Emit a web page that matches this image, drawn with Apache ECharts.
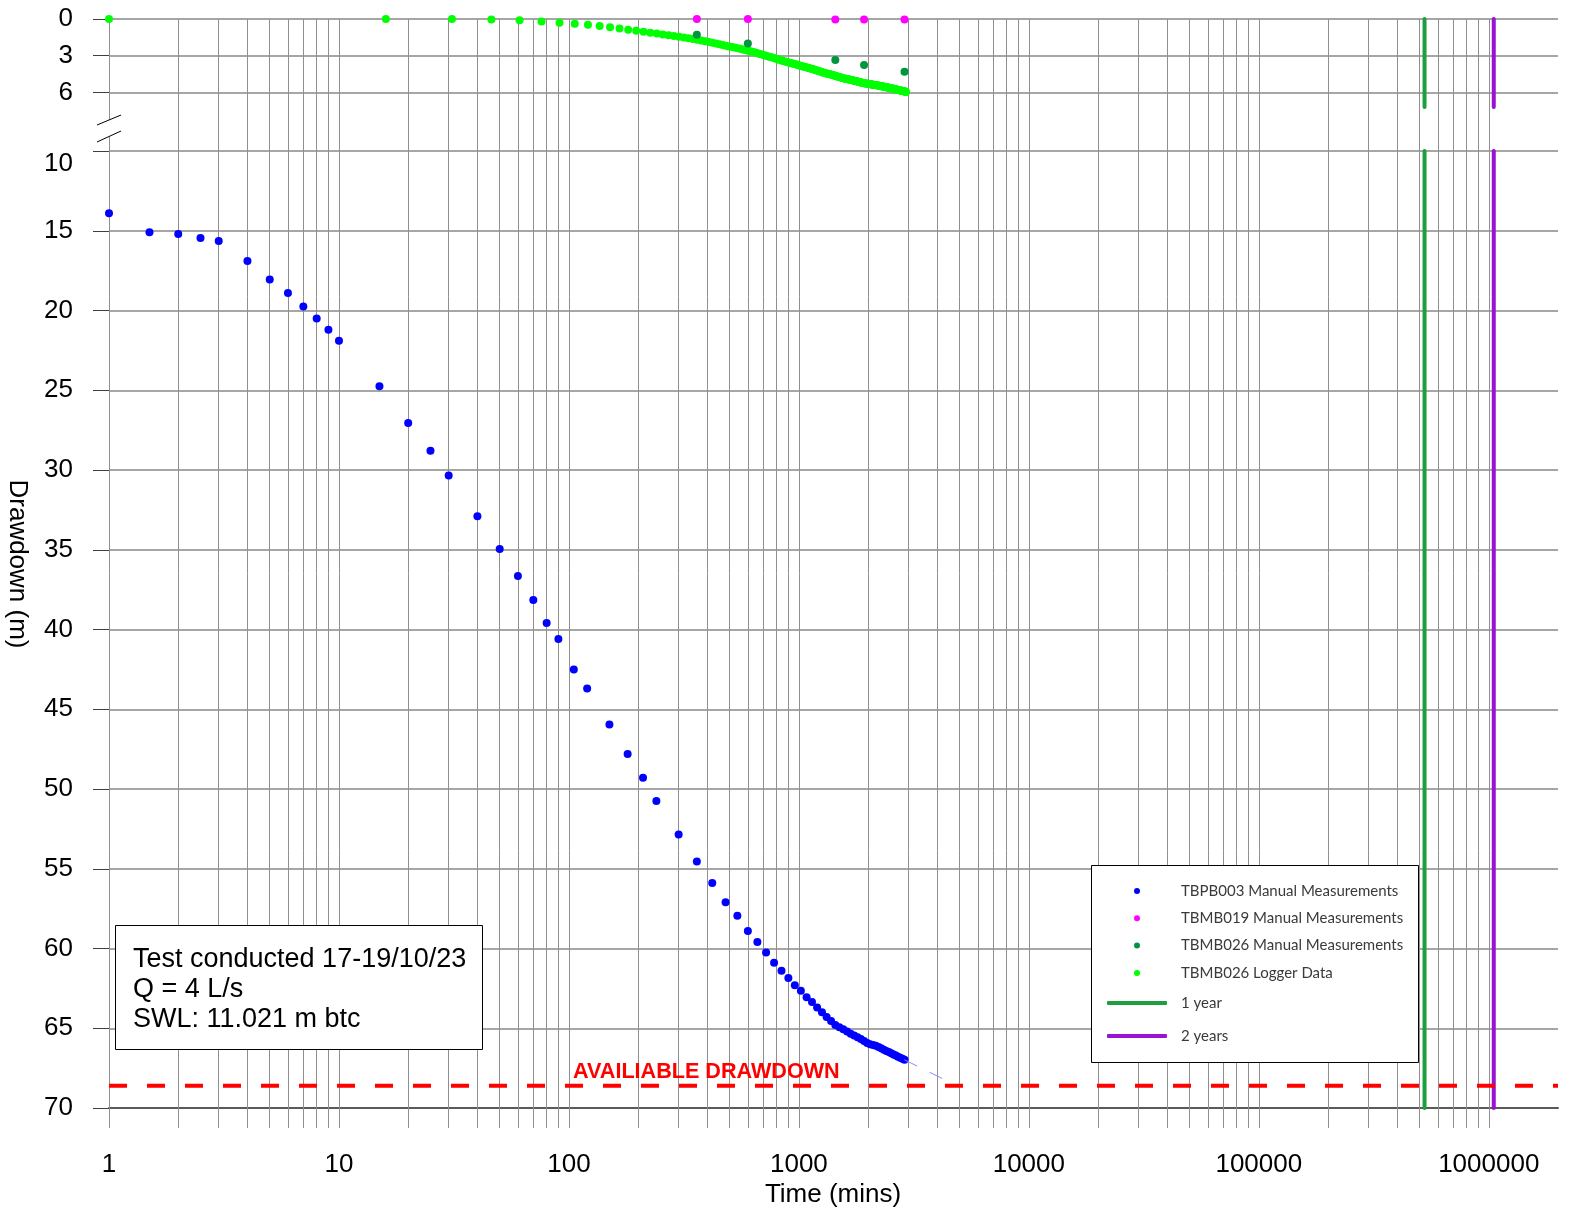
<!DOCTYPE html>
<html>
<head>
<meta charset="utf-8">
<title>Drawdown</title>
<script src="https://cdn.jsdelivr.net/npm/echarts@6.0.0/dist/echarts.min.js"></script>
<style>
  html, body { margin: 0; padding: 0; background: #fff; }
  #chart { width: 1573px; height: 1216px; }
</style>
</head>
<body>
<div id="chart"></div>
<script>
// TBPB003 pumping bore - manual dips (time in mins, drawdown in m)
var pumpTime = [1, 1.5, 2, 2.5, 3, 4, 5, 6, 7, 8, 9, 10, 15, 20, 25, 30, 40, 50, 60, 70, 80, 90, 105, 120,
  150, 180, 210, 240, 300, 360, 420, 480, 540, 600, 660, 720, 780, 840, 900, 960, 1020, 1080, 1140, 1200,
  1260, 1320, 1380, 1440, 1500, 1560, 1620, 1680, 1740, 1800, 1860, 1920, 1980, 2040, 2100, 2160, 2220,
  2280, 2340, 2400, 2460, 2520, 2580, 2640, 2700, 2760, 2820, 2880];
var pumpDrawdown = [13.9, 15.1, 15.2, 15.45, 15.65, 16.9, 18.05, 18.9, 19.75, 20.5, 21.2, 21.9, 24.75, 27.05,
  28.8, 30.35, 32.9, 34.95, 36.65, 38.15, 39.6, 40.6, 42.5, 43.7, 45.95, 47.8, 49.3, 50.75, 52.85, 54.55,
  55.9, 57.1, 57.95, 58.9, 59.6, 60.25, 60.9, 61.4, 61.85, 62.3, 62.65, 63.05, 63.35, 63.7, 64.0, 64.3,
  64.55, 64.8, 64.93, 65.07, 65.2, 65.34, 65.45, 65.56, 65.68, 65.8, 65.92, 66.0, 66.05, 66.1, 66.18,
  66.26, 66.35, 66.42, 66.49, 66.56, 66.64, 66.71, 66.78, 66.85, 66.92, 66.98];

// projection of the pumping bore trend to the available drawdown
var projTime = [2880, 4850];
var projDrawdown = [66.98, 68.6];

// observation bores - manual dips
var obsTime = [360, 600, 1440, 1920, 2880];
var tbmb019Drawdown = [0.0, 0.0, 0.05, 0.05, 0.05];
var tbmb026Drawdown = [1.28, 2.0, 3.35, 3.76, 4.31];

// TBMB026 logger
var loggerTime = [1, 16, 31, 46, 61, 76, 91, 106, 121, 136, 151, 166, 181, 196, 211, 226, 241, 256, 271, 286,
  301, 316, 331, 346, 361, 376, 391, 406, 421, 436, 451, 466, 481, 496, 511, 526, 541, 556, 571, 586, 601,
  616, 631, 646, 661, 676, 691, 706, 721, 736, 751, 766, 781, 796, 811, 826, 841, 856, 871, 886, 901, 916,
  931, 946, 961, 976, 991, 1006, 1021, 1036, 1051, 1066, 1081, 1096, 1111, 1126, 1141, 1156, 1171, 1186,
  1201, 1216, 1231, 1246, 1261, 1276, 1291, 1306, 1321, 1336, 1351, 1366, 1381, 1396, 1411, 1426, 1441,
  1456, 1471, 1486, 1501, 1516, 1531, 1546, 1561, 1576, 1591, 1606, 1621, 1636, 1651, 1666, 1681, 1696,
  1711, 1726, 1741, 1756, 1771, 1786, 1801, 1816, 1831, 1846, 1861, 1876, 1891, 1906, 1921, 1936, 1951,
  1966, 1981, 1996, 2011, 2026, 2041, 2056, 2071, 2086, 2101, 2116, 2131, 2146, 2161, 2176, 2191, 2206,
  2221, 2236, 2251, 2266, 2281, 2296, 2311, 2326, 2341, 2356, 2371, 2386, 2401, 2416, 2431, 2446, 2461,
  2476, 2491, 2506, 2521, 2536, 2551, 2566, 2581, 2596, 2611, 2626, 2641, 2656, 2671, 2686, 2701, 2716,
  2731, 2746, 2761, 2776, 2791, 2806, 2821, 2836, 2851, 2866, 2881, 2896, 2911, 2926];
var loggerDrawdown = [0, 0, 0, 0.04, 0.1, 0.2, 0.3, 0.38, 0.48, 0.58, 0.67, 0.77, 0.87, 0.96, 1.04, 1.12,
  1.19, 1.26, 1.33, 1.40, 1.46, 1.52, 1.58, 1.64, 1.70, 1.76,
  1.82, 1.88, 1.94, 2.01, 2.07, 2.13, 2.19,
  2.24, 2.29, 2.34, 2.39, 2.44, 2.49, 2.54,
  2.59, 2.64, 2.70, 2.75, 2.80, 2.86, 2.91, 2.96,
  3.01, 3.06, 3.11, 3.16, 3.20, 3.25, 3.30, 3.35, 3.40, 3.44, 3.48,
  3.52, 3.55, 3.59, 3.62, 3.66, 3.69, 3.73, 3.77, 3.80, 3.84, 3.87, 3.90,
  3.93, 3.96, 3.99, 4.03, 4.06, 4.09, 4.12, 4.16, 4.19, 4.22, 4.25, 4.28, 4.32, 4.35, 4.38, 4.41,
  4.43, 4.46, 4.48, 4.51, 4.53, 4.55, 4.58, 4.60, 4.63, 4.65, 4.68, 4.70, 4.72, 4.75, 4.77, 4.80, 4.82, 4.84, 4.86,
  4.88, 4.90, 4.91, 4.93, 4.95, 4.97, 4.98, 5.00, 5.02, 5.03, 5.05, 5.07, 5.09, 5.10, 5.12, 5.14, 5.15, 5.17,
  5.19, 5.21, 5.22, 5.24, 5.25,
  5.26, 5.27, 5.28, 5.29, 5.30, 5.31, 5.32, 5.33, 5.34, 5.35, 5.36, 5.37, 5.38, 5.39, 5.40, 5.41, 5.42, 5.43,
  5.44, 5.46, 5.47, 5.48, 5.49, 5.50, 5.51, 5.52, 5.53, 5.54, 5.55,
  5.56, 5.57, 5.58, 5.59, 5.60, 5.61, 5.62, 5.64, 5.65, 5.66, 5.67, 5.68, 5.69, 5.70, 5.71, 5.72, 5.73, 5.75,
  5.76, 5.77, 5.78, 5.79, 5.80, 5.81, 5.82, 5.83, 5.84, 5.86, 5.87, 5.88, 5.89, 5.90, 5.91, 5.92, 5.93, 5.94,
  5.96, 5.97];

var oneYear = 525600;     // mins
var twoYears = 1051200;   // mins
var availableDrawdown = 68.6;

var topTicks = [0, 3, 6];
var X_MIN = 1, X_MAX = 2000000;
var TOP_MAX = 7.2;
var BOT_MIN = 10, BOT_MAX = 70;

function pair(xs, ys) {
  return xs.map(function (x, i) { return [x, ys[i]]; });
}

// vertical log grid: decades plus 2..9 in between
var vLines = [];
for (var dec = 1; dec <= 1e6; dec *= 10) {
  vLines.push({ xAxis: dec });
  if (dec < 1e6) {
    for (var m = 2; m <= 9; m++) vLines.push({ xAxis: m * dec });
  }
}

var FONT = '"Liberation Sans", Arial, sans-serif';
var LEGEND_FONT = 'Lato, "Noto Sans", sans-serif';
var hLine = { lineStyle: { color: '#a6a6a6', width: 2 } };
var tickStyle = { show: true, length: 16, lineStyle: { color: '#404040', width: 1 } };

var chart = echarts.init(document.getElementById('chart'));

chart.setOption({
  animation: false,
  backgroundColor: '#fff',
  grid: [
    { left: 109, right: 15, top: 19, bottom: 88 },
    { left: 109, right: 15, top: 19, height: 88 },
    { left: 109, right: 15, top: 151, height: 957 }
  ],
  xAxis: [
    { gridIndex: 0, type: 'log', logBase: 10, min: X_MIN, max: X_MAX, show: false },
    { gridIndex: 1, type: 'log', logBase: 10, min: X_MIN, max: X_MAX, show: false },
    {
      gridIndex: 2, type: 'log', logBase: 10, min: X_MIN, max: X_MAX,
      axisLine: { show: true, lineStyle: { color: '#5a5a5a', width: 2 } },
      axisTick: { show: false },
      splitLine: { show: false },
      axisLabel: {
        margin: 44, fontSize: 26, fontFamily: FONT, color: '#000',
        formatter: function (v) {
          var l = Math.log10(v);
          if (Math.abs(l - Math.round(l)) > 1e-6) return '';
          return String(Math.round(Math.pow(10, Math.round(l))));
        }
      }
    }
  ],
  yAxis: [
    { gridIndex: 0, type: 'value', min: 0, max: 1, show: false },
    {
      gridIndex: 1, type: 'value', min: 0, max: TOP_MAX, interval: 3, inverse: true,
      axisLine: { show: false },
      axisTick: Object.assign({ customValues: topTicks }, tickStyle),
      axisLabel: { customValues: topTicks, margin: 36, fontSize: 26, fontFamily: FONT, color: '#000' },
      splitLine: hLine
    },
    {
      gridIndex: 2, type: 'value', min: BOT_MIN, max: BOT_MAX, interval: 5, inverse: true,
      axisLine: { show: false },
      axisTick: tickStyle,
      axisLabel: {
        margin: 36, fontSize: 26, fontFamily: FONT, color: '#000',
        formatter: function (v) { return v === BOT_MIN ? '{low|' + v + '}' : String(v); },
        rich: { low: { fontSize: 26, fontFamily: FONT, color: '#000', padding: [26, 0, 0, 0] } }
      },
      splitLine: hLine
    }
  ],
  legend: [
    {
      z: 10, orient: 'vertical', left: 1134, top: 883, padding: 0,
      itemWidth: 6, itemHeight: 6, itemGap: 11.3, selectedMode: false,
      textStyle: { fontSize: 15, lineHeight: 16, fontFamily: LEGEND_FONT, color: '#3a3a3a', padding: [0, 0, 0, 36] },
      data: [
        { name: 'TBPB003 Manual Measurements', icon: 'circle' },
        { name: 'TBMB019 Manual Measurements', icon: 'circle' },
        { name: 'TBMB026 Manual Measurements', icon: 'circle' },
        { name: 'TBMB026 Logger Data', icon: 'circle' }
      ]
    },
    {
      z: 10, orient: 'vertical', left: 1107, top: 995, padding: 0,
      itemWidth: 60, itemHeight: 4, itemGap: 17, selectedMode: false,
      textStyle: { fontSize: 15, lineHeight: 16, fontFamily: LEGEND_FONT, color: '#3a3a3a', padding: [0, 0, 0, 9] },
      data: [{ name: '1 year', icon: 'roundRect' }, { name: '2 years', icon: 'roundRect' }]
    }
  ],
  series: [
    {
      // log grid lines behind everything
      type: 'scatter', xAxisIndex: 0, yAxisIndex: 0, data: [], silent: true, z: 1,
      markLine: {
        z: 1, silent: true, symbol: ['none', 'none'], label: { show: false },
        lineStyle: { color: '#8f8f8f', width: 1, type: 'solid' },
        emphasis: { disabled: true },
        data: vLines
      }
    },
    {
      name: 'TBMB026 Logger Data', type: 'scatter', xAxisIndex: 1, yAxisIndex: 1,
      symbolSize: 8, itemStyle: { color: '#00ff00', opacity: 1 },
      data: pair(loggerTime, loggerDrawdown)
    },
    {
      name: 'TBMB026 Manual Measurements', type: 'scatter', xAxisIndex: 1, yAxisIndex: 1,
      symbolSize: 8, itemStyle: { color: '#009640', opacity: 1 },
      data: pair(obsTime, tbmb026Drawdown)
    },
    {
      name: 'TBMB019 Manual Measurements', type: 'scatter', xAxisIndex: 1, yAxisIndex: 1,
      symbolSize: 8, itemStyle: { color: '#ff00ff', opacity: 1 },
      data: pair(obsTime, tbmb019Drawdown)
    },
    {
      name: 'TBPB003 Manual Measurements', type: 'scatter', xAxisIndex: 2, yAxisIndex: 2,
      symbolSize: 8, itemStyle: { color: '#0000ff', opacity: 1 },
      data: pair(pumpTime, pumpDrawdown)
    },
    {
      type: 'line', xAxisIndex: 2, yAxisIndex: 2, symbol: 'none', silent: true,
      lineStyle: { color: '#8a8aff', width: 1, type: [14, 14] },
      data: pair(projTime, projDrawdown)
    },
    {
      name: '1 year', type: 'line', xAxisIndex: 1, yAxisIndex: 1, symbol: 'none',
      itemStyle: { color: '#1c9f3c' }, lineStyle: { color: '#1c9f3c', width: 4, cap: 'round' },
      data: [[oneYear, 0], [oneYear, TOP_MAX]]
    },
    {
      name: '1 year', type: 'line', xAxisIndex: 2, yAxisIndex: 2, symbol: 'none',
      itemStyle: { color: '#1c9f3c' }, lineStyle: { color: '#1c9f3c', width: 4, cap: 'round' },
      data: [[oneYear, BOT_MIN], [oneYear, BOT_MAX]]
    },
    {
      name: '2 years', type: 'line', xAxisIndex: 1, yAxisIndex: 1, symbol: 'none',
      itemStyle: { color: '#9a12d2' }, lineStyle: { color: '#9a12d2', width: 4, cap: 'round' },
      data: [[twoYears, 0], [twoYears, TOP_MAX]]
    },
    {
      name: '2 years', type: 'line', xAxisIndex: 2, yAxisIndex: 2, symbol: 'none',
      itemStyle: { color: '#9a12d2' }, lineStyle: { color: '#9a12d2', width: 4, cap: 'round' },
      data: [[twoYears, BOT_MIN], [twoYears, BOT_MAX]]
    },
    {
      type: 'line', xAxisIndex: 2, yAxisIndex: 2, symbol: 'none', silent: true,
      lineStyle: { color: '#ff0000', width: 4, type: [18, 20] },
      data: [[X_MIN, availableDrawdown], [X_MAX, availableDrawdown]]
    }
  ],
  graphic: [
    // axis break marks
    { type: 'polygon', z: 10, shape: { points: [[97, 125], [121, 115], [121, 131], [97, 142]] }, style: { fill: '#fff' } },
    { type: 'line', z: 11, shape: { x1: 97, y1: 125, x2: 121, y2: 115 }, style: { stroke: '#000', lineWidth: 1 } },
    { type: 'line', z: 11, shape: { x1: 97, y1: 142, x2: 121, y2: 131 }, style: { stroke: '#000', lineWidth: 1 } },
    // legend frame
    { type: 'rect', z: 8, shape: { x: 1091.5, y: 865.5, width: 327, height: 197 }, style: { fill: '#fff', stroke: '#000', lineWidth: 1 } },
    // test notes
    { type: 'rect', z: 8, shape: { x: 115.5, y: 925.5, width: 367, height: 124 }, style: { fill: '#fff', stroke: '#000', lineWidth: 1 } },
    {
      type: 'text', z: 9, x: 133, y: 945,
      style: { text: 'Test conducted 17-19/10/23\nQ = 4 L/s\nSWL: 11.021 m btc', font: '27px ' + FONT, lineHeight: 30, fill: '#000', verticalAlign: 'top' }
    },
    {
      type: 'text', z: 9, x: 573, y: 1072,
      style: { text: 'AVAILIABLE DRAWDOWN', font: 'bold 21.6px ' + FONT, fill: '#ff0000', verticalAlign: 'middle' }
    },
    {
      type: 'text', z: 9, x: 17, y: 564, rotation: -Math.PI / 2,
      style: { text: 'Drawdown (m)', font: '26px ' + FONT, fill: '#000', align: 'center', verticalAlign: 'middle' }
    },
    {
      type: 'text', z: 9, x: 833, y: 1195,
      style: { text: 'Time (mins)', font: '26px ' + FONT, fill: '#000', align: 'center', verticalAlign: 'middle' }
    }
  ]
});
</script>
</body>
</html>
